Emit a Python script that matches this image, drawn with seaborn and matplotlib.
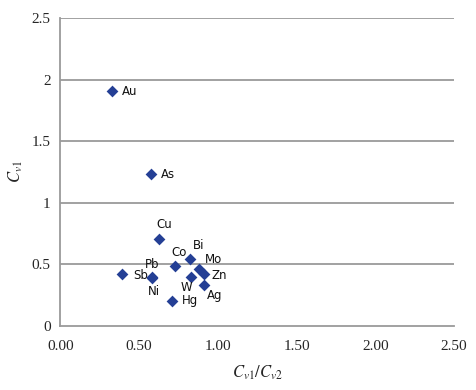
import matplotlib
matplotlib.use("Agg")
import matplotlib.pyplot as plt
import seaborn as sns
import pandas as pd

# element scatter values
elements = ["Au", "As", "Cu", "Co", "Bi", "Mo", "Zn", "W", "Ag", "Sb", "Pb", "Ni", "Hg"]
ratio = [0.327, 0.575, 0.626, 0.729, 0.825, 0.882, 0.914, 0.827, 0.914, 0.391, 0.583, 0.583, 0.708]
cv1 = [1.908, 1.233, 0.705, 0.488, 0.540, 0.463, 0.420, 0.398, 0.328, 0.418, 0.392, 0.388, 0.203]
# label offsets in points (dx, dy, ha, va)
offsets = {
    "Au": (7, 0, "left", "center"), "As": (7, 0, "left", "center"),
    "Cu": (-2, 6, "left", "bottom"), "Co": (-3, 5, "left", "bottom"),
    "Bi": (2, 5, "left", "bottom"), "Mo": (4, 2, "left", "bottom"),
    "Zn": (5, -1, "left", "center"), "W": (1, -3, "right", "top"),
    "Ag": (2, -3, "left", "top"), "Sb": (8, -1, "left", "center"),
    "Pb": (0, 5, "center", "bottom"), "Ni": (1, -5, "center", "top"),
    "Hg": (7, 0, "left", "center"),
}

df = pd.DataFrame({"element": elements, "ratio": ratio, "cv1": cv1})

sns.set_style("white")
plt.rcParams["mathtext.fontset"] = "stix"

fig = plt.figure(figsize=(4.76, 3.90), dpi=100)
ax = fig.add_axes([0.127, 0.165, 0.827, 0.788])

grid_col = "#9a9a9a"
for yv in [0.5, 1.0, 1.5, 2.0, 2.5]:
    ax.axhline(yv, color=grid_col, lw=1.3, zorder=0)

sns.scatterplot(data=df, x="ratio", y="cv1", marker="D", s=36,
                color="#243f95", edgecolor="#243f95", linewidth=0, ax=ax, zorder=3)

for el, x, y in zip(elements, ratio, cv1):
    dx, dy, ha, va = offsets[el]
    ax.annotate(el, (x, y), xytext=(dx, dy), textcoords="offset points",
                ha=ha, va=va, fontsize=8.5,
                family=["Liberation Sans Narrow", "DejaVu Sans"], color="#111111")

ax.set_xlim(0, 2.5)
ax.set_ylim(0, 2.5)
ax.set_xticks([0, 0.5, 1.0, 1.5, 2.0, 2.5])
ax.set_xticklabels(["0.00", "0.50", "1.00", "1.50", "2.00", "2.50"])
ax.set_yticks([0, 0.5, 1.0, 1.5, 2.0, 2.5])
ax.set_yticklabels(["0", "0.5", "1", "1.5", "2", "2.5"])
for lab in ax.get_xticklabels() + ax.get_yticklabels():
    lab.set_family("Liberation Serif")
    lab.set_fontsize(11)

ax.tick_params(axis="both", direction="out", length=4, width=1, color=grid_col, pad=3)
ax.tick_params(axis="x", pad=6)
sns.despine(ax=ax)
for side in ["left", "bottom"]:
    ax.spines[side].set_color(grid_col)
    ax.spines[side].set_linewidth(1.3)

ax.set_xlabel("$C_{v1}/C_{v2}$", fontsize=12, labelpad=8)
ax.set_ylabel("$C_{v1}$", fontsize=12, labelpad=5)

fig.savefig("out.png", dpi=100)
